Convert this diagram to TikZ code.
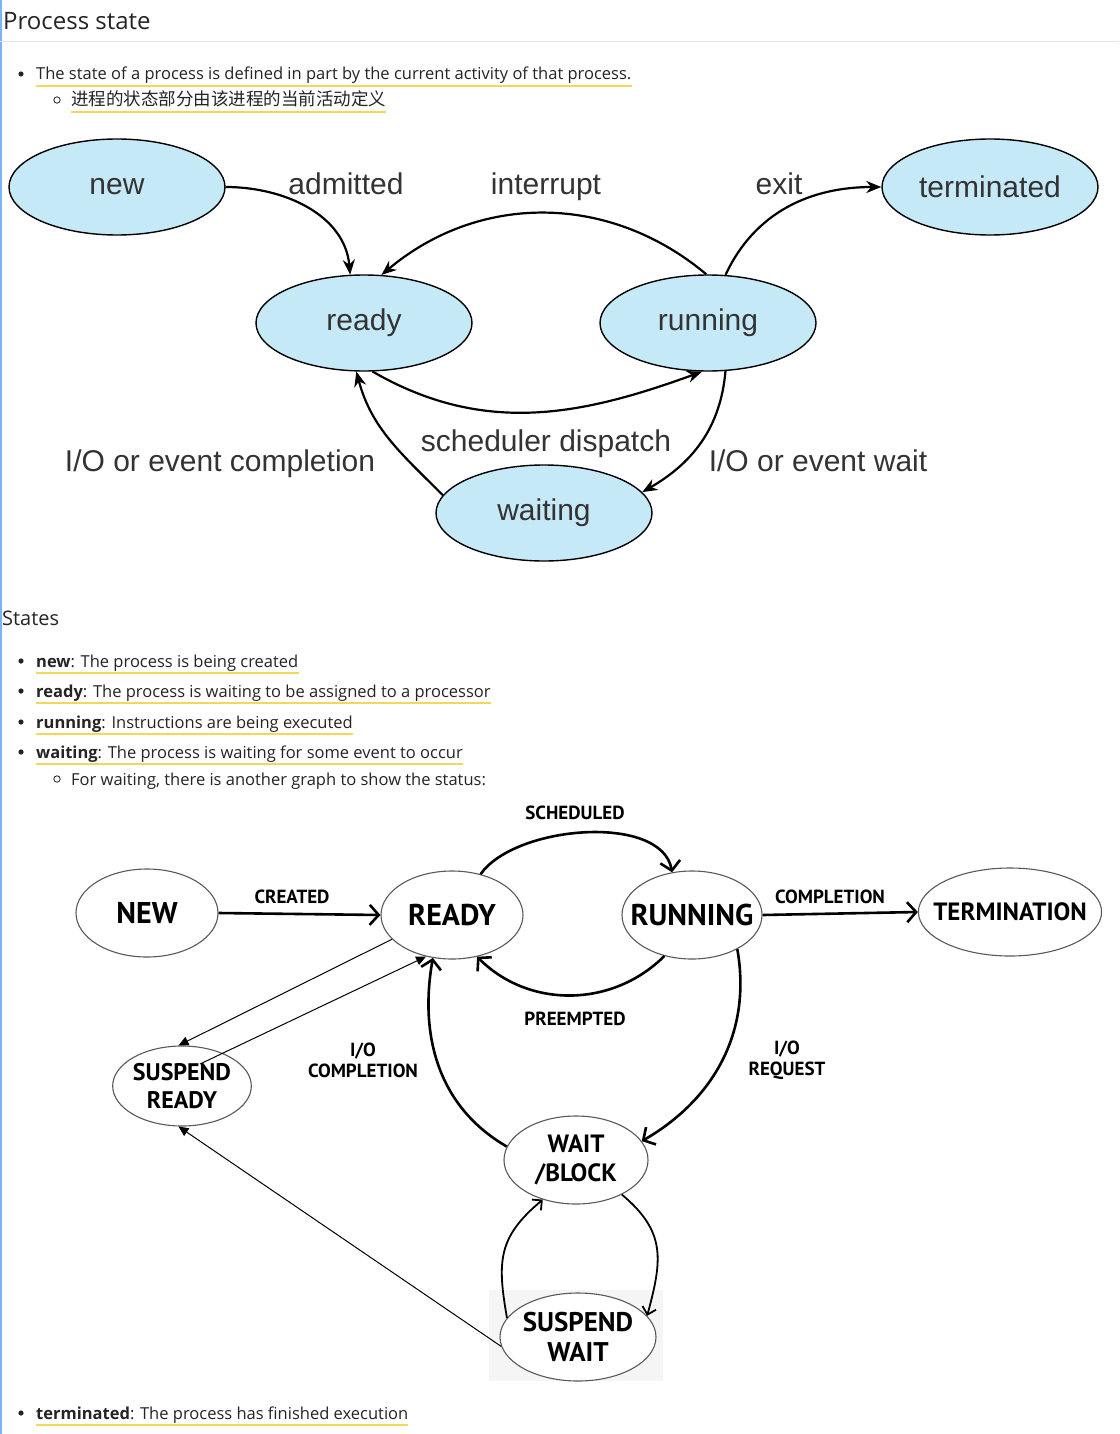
\documentclass[tikz,border=0pt]{standalone}
\usepackage{fontspec}
\setmainfont{Open Sans}
\newfontfamily\cjk{Noto Sans CJK SC}
\newfontfamily\helv{Liberation Sans}
\newfontfamily\hand{PT Sans}
\usetikzlibrary{arrows.meta,shapes.geometric}
\usepackage{xcolor}
\definecolor{stateblue}{HTML}{C6E9F8}
\definecolor{hlyellow}{HTML}{F2D75A}
\definecolor{sideblue}{HTML}{7DB3F0}
\definecolor{rulegray}{HTML}{E4E4E4}
\definecolor{txt}{HTML}{242424}

\begin{document}
\begin{tikzpicture}[x=1pt,y=-1pt,
  blueState/.style={ellipse, draw, line width=1.4pt, fill=stateblue, minimum width=216pt, minimum height=96pt, inner sep=0pt, text=black!80, font=\helv\fontsize{30}{30}\selectfont},
  blueLabel/.style={anchor=base, inner sep=0pt, text=black!80, font=\helv\fontsize{30}{30}\selectfont},
  blueEdge/.style={-{Stealth[length=15pt,width=12pt]}, line width=2.2pt},
  capState/.style={ellipse, draw=black!65, line width=1.1pt, fill=white, inner sep=0pt, align=center, font=\hand\bfseries\fontsize{30}{28}\selectfont},
  capLabel/.style={inner sep=0pt, align=center, font=\hand\bfseries\fontsize{19}{21}\selectfont},
  capEdge/.style={-{Straight Barb[length=9pt,width=20pt]}, line width=2.6pt},
  loopEdge/.style={-{Straight Barb[length=7pt,width=14pt]}, line width=1.8pt},
  thinEdge/.style={-{Triangle[length=10pt,width=9pt]}, line width=1pt},
  body/.style={anchor=base west, inner sep=0pt, text=txt, font=\fontsize{16.5}{16.5}\selectfont},
  hlLine/.style={hlyellow, line width=1.6pt}]
  \fill[white] (0,0) rectangle (1119,1434);
  \useasboundingbox (0,0) rectangle (1119,1434);
  \fill[sideblue] (0,0) rectangle (2,1434);

  % Page heading and first bullets
  \node (title) [anchor=base west, inner sep=0pt, text=txt, font=\fontsize{24}{24}\selectfont] at (3,30) {Process state};
  \draw[rulegray, line width=1pt] (0,42) -- (1119,42);
  \fill[txt] (21,74) circle (2.6pt);
  \node (b1) [body] at (36,80) {The state of a process is defined in part by the current activity of that process.};
  \draw[hlLine] ([yshift=-6pt]b1.base west) -- ([yshift=-6pt]b1.base east);
  \draw[txt, line width=0.8pt] (57,100) circle (3.2pt);
  \node (b2) [body, font=\cjk\fontsize{17.5}{18}\selectfont] at (71,106) {进程的状态部分由该进程的当前活动定义};
  \draw[hlLine] ([yshift=-6pt]b2.base west) -- ([yshift=-6pt]b2.base east);

  % Upper diagram: states
  \node (new)   [blueState] at (117,187) {new};
  \node (term)  [blueState] at (990,187) {terminated};
  \node (ready) [blueState] at (364,323) {ready};
  \node (run)   [blueState] at (708,323) {running};
  \node (wait)  [blueState] at (544,513) {waiting};

  % Upper diagram: transitions
  \draw[blueEdge] (new.east) to[out=0,in=95] (ready.106);
  \draw[blueEdge] (run.92) to[out=140,in=40] (ready.70);
  \draw[blueEdge] (run.70) to[out=65,in=180] (term.west);
  \draw[blueEdge] (ready.-80) to[out=-30,in=-160] (run.-97);
  \draw[blueEdge] (run.-70) to[out=-95,in=30] (wait.12);
  \draw[blueEdge] (wait.170) to[out=135,in=-75] (ready.-99);
  \node (admit) [blueLabel] at (346,194) {admitted};
  \node (intr)  [blueLabel] at (546,194) {interrupt};
  \node (exit)  [blueLabel] at (779,194) {exit};
  \node (disp)  [blueLabel] at (546,451) {scheduler dispatch};
  \node (ioc)   [blueLabel] at (220,471) {I/O or event completion};
  \node (iow)   [blueLabel] at (818,471) {I/O or event wait};

  % State list
  \node (hstates) [anchor=base west, inner sep=0pt, text=txt, font=\fontsize{20}{20}\selectfont] at (2,625) {States};
  \fill[txt] (21,661) circle (2.6pt);
  \node (s1) [body] at (36,667) {\textbf{new}: The process is being created};
  \draw[hlLine] ([yshift=-6pt]s1.base west) -- ([yshift=-6pt]s1.base east);
  \fill[txt] (21,691) circle (2.6pt);
  \node (s2) [body] at (36,697) {\textbf{ready}: The process is waiting to be assigned to a processor};
  \draw[hlLine] ([yshift=-6pt]s2.base west) -- ([yshift=-6pt]s2.base east);
  \fill[txt] (21,722) circle (2.6pt);
  \node (s3) [body] at (36,728) {\textbf{running}: Instructions are being executed};
  \draw[hlLine] ([yshift=-6pt]s3.base west) -- ([yshift=-6pt]s3.base east);
  \fill[txt] (21,752) circle (2.6pt);
  \node (s4) [body] at (36,758) {\textbf{waiting}: The process is waiting for some event to occur};
  \draw[hlLine] ([yshift=-6pt]s4.base west) -- ([yshift=-6pt]s4.base east);
  \draw[txt, line width=0.8pt] (57,779) circle (3.2pt);
  \node (s5) [body] at (71,785) {For waiting, there is another graph to show the status:};

  % Lower diagram: states
  \fill[black!4] (489,1290) rectangle (663,1381);
  \node (lnew)   [capState, minimum width=142pt, minimum height=88pt] at (147,913) {NEW};
  \node (lready) [capState, minimum width=142pt, minimum height=88pt] at (452,915) {READY};
  \node (lrun)   [capState, minimum width=140pt, minimum height=88pt, inner xsep=-12pt] at (692,915) {RUNNING};
  \node (lterm)  [capState, minimum width=180pt, minimum height=88pt, inner xsep=-12pt, font=\hand\bfseries\fontsize{25}{25}\selectfont] at (1010,912) {TERMINATION};
  \node (lsready) [capState, minimum width=136pt, minimum height=80pt, font=\hand\bfseries\fontsize{24}{28}\selectfont] at (182,1086) {SUSPEND\\READY};
  \node (lblock) [capState, minimum width=144pt, minimum height=88pt, font=\hand\bfseries\fontsize{25}{29}\selectfont] at (576,1160) {WAIT\\/BLOCK};
  \node (lswait) [capState, minimum width=154pt, minimum height=88pt, font=\hand\bfseries\fontsize{27}{30}\selectfont] at (578,1337) {SUSPEND\\WAIT};

  % Lower diagram: transitions
  \draw[capEdge] (lnew.east) -- (lready.west);
  \draw[capEdge] (lready.55) to[out=55,in=100,looseness=0.8] (lrun.115);
  \draw[capEdge] (lrun.-124) to[out=-135,in=-45] (lready.-59);
  \draw[capEdge] (lrun.east) -- (lterm.west);
  \draw[capEdge] (lrun.-37) to[out=-80,in=30] (lblock.16);
  \draw[capEdge] (lblock.169) to[out=150,in=-100] (lready.-114);
  \draw[loopEdge] (lblock.-37) to[out=-40,in=75,looseness=1.2] (lswait.17);
  \draw[loopEdge] (lswait.165) to[out=100,in=-140,looseness=1.2] (lblock.-130);
  \coordinate (srstart) at (200,1064);
  \draw[thinEdge] (lready.-158) -- (lsready.95);
  \draw[thinEdge] (srstart) -- (lready.-122);
  \draw[thinEdge] (lswait.187) -- (lsready.-95);
  \node (lsched) [capLabel] at (575,813) {SCHEDULED};
  \node (lcreat) [capLabel] at (292,897) {CREATED};
  \node (lcompl) [capLabel] at (830,897) {COMPLETION};
  \node (lpreem) [capLabel] at (575,1019) {PREEMPTED};
  \node (liocom) [capLabel] at (363,1060) {I/O\\COMPLETION};
  \node (liorq)  [capLabel] at (787,1060) {I/O\\REQUEST};

  % Last bullet
  \fill[txt] (21,1413) circle (2.6pt);
  \node (t1) [body] at (36,1419) {\textbf{terminated}: The process has finished execution};
  \draw[hlLine] ([yshift=-6pt]t1.base west) -- ([yshift=-6pt]t1.base east);
\end{tikzpicture}
\end{document}
